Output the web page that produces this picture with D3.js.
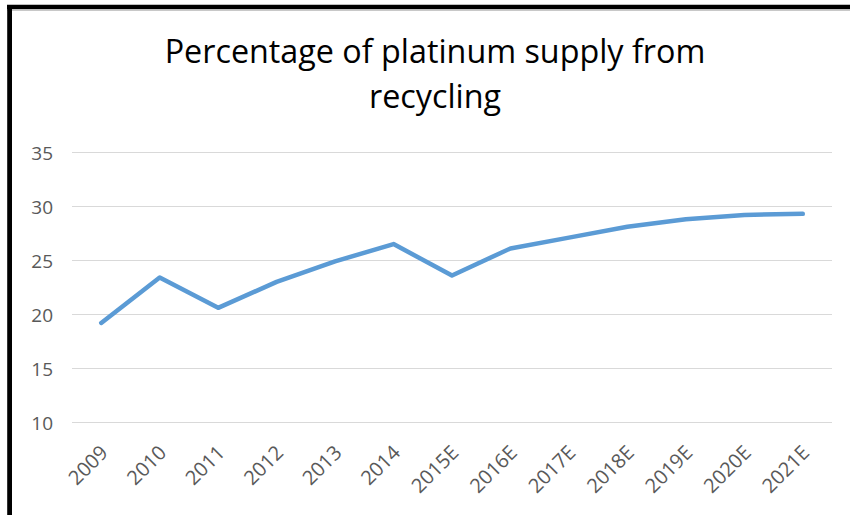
<!DOCTYPE html>
<html>
<head>
<meta charset="utf-8">
<script src="https://cdn.jsdelivr.net/npm/d3@7/dist/d3.min.js"></script>
<style>
  html, body { margin: 0; padding: 0; background: #fff; }
  svg { display: block; }
</style>
</head>
<body>
<script>
const categories = ["2009","2010","2011","2012","2013","2014","2015E","2016E","2017E","2018E","2019E","2020E","2021E"];
const recyclingShare = [19.2, 23.4, 20.6, 23.0, 24.9, 26.5, 23.6, 26.1, 27.1, 28.1, 28.8, 29.2, 29.3];
const yTicks = [10, 15, 20, 25, 30, 35];
const titleLines = ["Percentage of platinum supply from", "recycling"];

const W = 850, H = 515;
const svg = d3.select("body").append("svg").attr("width", W).attr("height", H);
const font = "'Open Sans', 'Liberation Sans', sans-serif";

// frame
svg.append("line").attr("x1", 7).attr("x2", W).attr("y1", 10.5).attr("y2", 10.5)
  .attr("stroke", "#c8c8c8").attr("stroke-width", 1);
svg.append("line").attr("x1", 7).attr("x2", W).attr("y1", 7).attr("y2", 7)
  .attr("stroke", "#000").attr("stroke-width", 4.5);
svg.append("line").attr("x1", 9.6).attr("x2", 9.6).attr("y1", 5).attr("y2", H)
  .attr("stroke", "#000").attr("stroke-width", 4.8);

const x = d3.scaleBand().domain(categories).range([72, 832]);
const y = d3.scaleLinear().domain([10, 35]).range([422.3, 152.3]);

// gridlines
svg.append("g").selectAll("line").data(yTicks).join("line")
  .attr("x1", 72).attr("x2", 832)
  .attr("y1", d => Math.round(y(d)) + 0.5).attr("y2", d => Math.round(y(d)) + 0.5)
  .attr("stroke", "#d9d9d9").attr("stroke-width", 1);

// y axis labels
const yAxis = d3.axisLeft(y).tickValues(yTicks).tickSize(0).tickPadding(0);
const gy = svg.append("g").attr("transform", "translate(53,0)").call(yAxis);
gy.select(".domain").remove();
gy.selectAll("text").attr("font-family", font).attr("font-size", 19)
  .attr("fill", "#595959").attr("dy", "0.36em");

// x axis labels
const xAxis = d3.axisBottom(x).tickSize(0).tickPadding(0);
const gx = svg.append("g").call(xAxis);
gx.select(".domain").remove();
gx.selectAll(".tick").attr("transform", d => `translate(${x(d) + x.bandwidth() / 2 + 3},449)`);
gx.selectAll("text").attr("font-family", font).attr("font-size", 20)
  .attr("fill", "#595959").attr("text-anchor", "end")
  .attr("x", 0).attr("y", 0).attr("dy", "0.35em")
  .attr("transform", "rotate(-45)");

// line
const line = d3.line()
  .x((d, i) => x(categories[i]) + x.bandwidth() / 2)
  .y(d => y(d));
svg.append("path").datum(recyclingShare)
  .attr("d", line).attr("fill", "none")
  .attr("stroke", "#5b9bd5").attr("stroke-width", 4.5)
  .attr("stroke-linejoin", "round").attr("stroke-linecap", "round");

// title
const t = svg.append("g");
const baselines = [63, 108];
titleLines.forEach((s, i) => {
  t.append("text").attr("x", 435).attr("y", baselines[i])
    .attr("text-anchor", "middle").attr("font-family", font)
    .attr("font-size", 29).attr("fill", "#000").text(s);
});
const first = t.select("text").node();
const w = first.getComputedTextLength();
const fs = 29 * 541 / w;
t.selectAll("text").attr("font-size", fs);
</script>
</body>
</html>
